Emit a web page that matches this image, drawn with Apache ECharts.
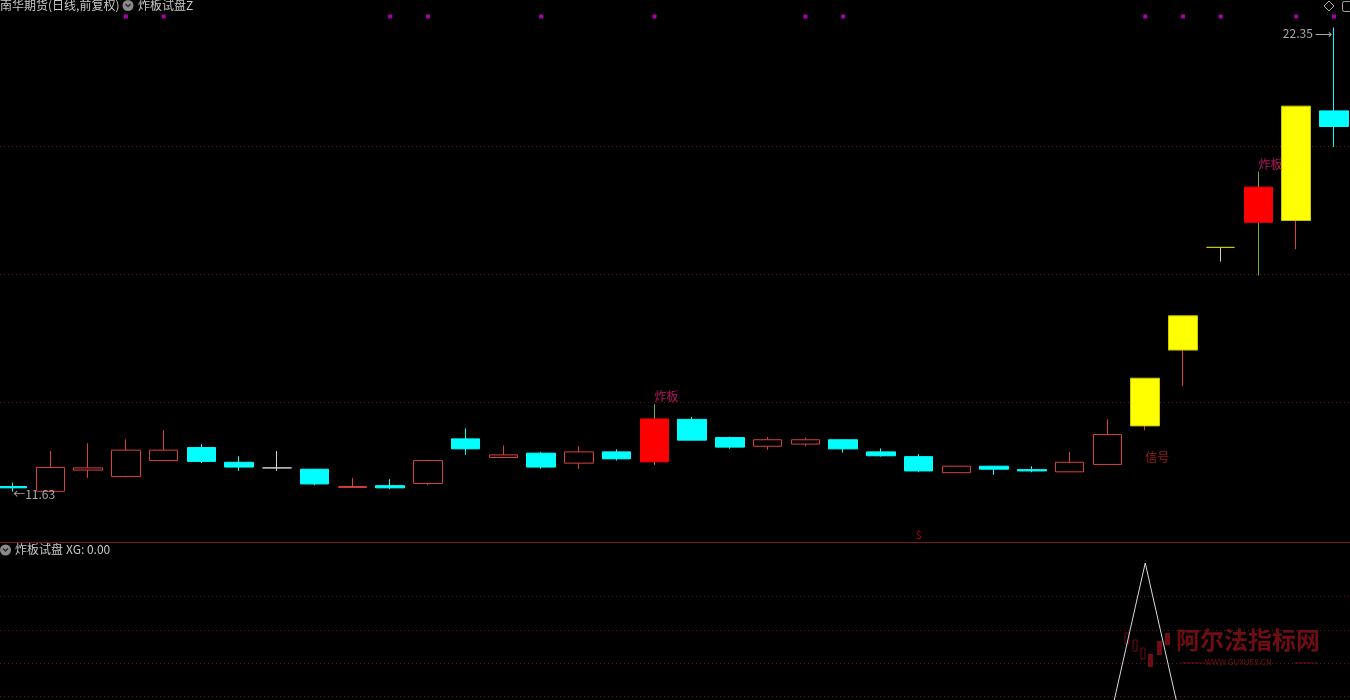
<!DOCTYPE html>
<html>
<head>
<meta charset="utf-8">
<title>炸板试盘</title>
<script src="https://cdn.jsdelivr.net/npm/echarts@6/dist/echarts.min.js"></script>
<style>
html, body { margin: 0; padding: 0; background: #000; }
#main { width: 1350px; height: 700px; }
</style>
</head>
<body>
<div id="main"></div>
<script>
// 日K线 开/收/低/高
const openP  = [11.75, 11.64, 12.13, 11.98, 12.35, 12.65, 12.31, 12.18, 12.15, 11.73, 11.77, 11.82,
                12.85, 12.42, 12.52, 12.29, 12.55, 12.32, 13.30, 12.88, 12.68, 12.73, 12.83, 12.55,
                12.44, 12.07, 12.22, 12.14, 12.09, 12.26, 13.15, 14.90, 17.27, 17.85, 17.89, 20.42];
const closeP = [11.72, 12.19, 12.18, 12.59, 12.59, 12.33, 12.20, 12.18, 11.81, 11.75, 11.72, 12.35,
                12.62, 12.48, 12.20, 12.55, 12.39, 13.31, 12.82, 12.66, 12.83, 12.83, 12.62, 12.46,
                12.11, 12.22, 12.15, 12.11, 12.31, 12.95, 14.25, 15.69, 17.27, 18.66, 20.53, 20.06];
const lowP   = [11.63, 11.64, 11.95, 11.96, 12.35, 12.29, 12.11, 12.11, 11.78, 11.73, 11.69, 11.78,
                12.48, 12.42, 12.16, 12.16, 12.35, 12.25, 12.82, 12.62, 12.60, 12.68, 12.53, 12.44,
                12.08, 12.07, 12.02, 12.08, 12.09, 12.26, 13.05, 14.07, 16.94, 16.62, 17.23, 19.59];
const highP  = [11.84, 12.57, 12.75, 12.84, 13.05, 12.73, 12.45, 12.57, 12.15, 11.95, 11.92, 12.37,
                13.09, 12.70, 12.55, 12.68, 12.61, 13.65, 13.36, 12.90, 12.89, 12.88, 12.83, 12.63,
                12.50, 12.22, 12.22, 12.22, 12.55, 13.30, 14.25, 15.69, 17.27, 19.02, 20.53, 22.35];

// 指标信号
const zhaBanIdx = [17, 33];            // 炸板
const yellowIdx = [30, 31, 32, 34];    // 黄色K线
const signalIdx = [30];                // 信号
const dollarIdx = [24];
const dollarLevel = 10.63;
const dotIdx = [3, 4, 10, 11, 14, 17, 21, 22, 30, 31, 32, 34, 35];
const dotLevel = 22.60;
const xgValues = [0, 0, 0, 0, 0, 0, 0, 0, 0, 0, 0, 0, 0, 0, 0, 0, 0, 0,
                  0, 0, 0, 0, 0, 0, 0, 0, 0, 0, 0, 0, 1, 0, 0, 0, 0, 0];

// 分隔虚线
const gridLevels = [13.69, 16.65, 19.61];
const subLevels = [0.2, 0.4, 0.6, 0.8];

const days = openP.map((_, i) => i);

const UP = '#d84040', DOWN = '#00ffff', FLAT = '#d0d0d0';
const FONT = '"Noto Sans CJK SC", sans-serif';

function kStyle(i) {
    const o = openP[i], c = closeP[i];
    let fill, border, wick;
    if (zhaBanIdx.includes(i)) {
        fill = '#ff0000'; border = '#ff0000'; wick = '#74b02c';
    } else if (yellowIdx.includes(i)) {
        fill = '#ffff00'; border = '#c8c800'; wick = UP;
    } else if (c > o) {
        fill = '#000'; border = UP; wick = UP;
    } else if (c < o) {
        fill = DOWN; border = DOWN; wick = DOWN;
    } else {
        fill = '#000'; border = FLAT; wick = FLAT;
    }
    if (o === c) wick = FLAT;
    return { fill, border, wick };
}

function colors(fill, border) {
    return { color: fill, color0: fill, borderColor: border, borderColor0: border, borderColorDoji: border, borderWidth: 1 };
}

// 影线一层, 实体一层盖在上面
const wickData = days.map(i => {
    const s = kStyle(i);
    return { value: [i, openP[i], closeP[i], lowP[i], highP[i]], itemStyle: colors(s.wick, s.wick) };
});
const bodyData = days.map(i => {
    const s = kStyle(i);
    const top = Math.max(openP[i], closeP[i]), bot = Math.min(openP[i], closeP[i]);
    return { value: [i, openP[i], closeP[i], bot, top], itemStyle: colors(s.fill, s.border) };
});

const maxHigh = Math.max(...highP), minLow = Math.min(...lowP);
const maxI = highP.indexOf(maxHigh), minI = lowP.indexOf(minLow);

function labelPoint(data, text, color, position, align, distance, offset, size) {
    return {
        type: 'scatter', xAxisIndex: 0, yAxisIndex: 0, symbolSize: 1, silent: true, z: 6,
        itemStyle: { color: 'transparent' },
        label: { show: true, formatter: text, color, position, align, distance, offset: offset || [0, 0],
                 fontSize: size || 12, fontFamily: FONT },
        data
    };
}

const dotted = (color) => ({ type: [1, 3], color, width: 1 });
const xRange = { min: -0.336, max: days.length - 1 + 0.424 };

let myechart = echarts.init(document.getElementById('main'));
myechart.setOption({
    backgroundColor: '#000',
    animation: false,
    grid: [
        { left: 0, right: 0, top: 0, height: 542 },
        { left: 0, right: 0, top: 563, bottom: 0 }
    ],
    xAxis: [
        { type: 'value', gridIndex: 0, min: xRange.min, max: xRange.max,
          axisLine: { show: true, onZero: false, lineStyle: { color: '#7a1a1a' } }, axisTick: { show: false },
          axisLabel: { show: false }, splitLine: { show: false } },
        { type: 'value', gridIndex: 1, min: xRange.min, max: xRange.max, show: false }
    ],
    yAxis: [
        { type: 'value', gridIndex: 0, min: 10.47, max: 22.98, show: false },
        // 窗口只露出 XG 副图的上半部分
        { type: 'value', gridIndex: 1, min: 0.1796, max: 1, show: false }
    ],
    series: [
        {
            name: 'wick', type: 'candlestick', barWidth: 1, clip: false, z: 2, data: wickData,
            markLine: {
                silent: true, symbol: 'none', label: { show: false }, z: 1,
                lineStyle: dotted('#6e1616'),
                data: gridLevels.map(v => ({ yAxis: v }))
            }
        },
        { name: 'K线', type: 'candlestick', barWidth: 29, clip: false, z: 5, data: bodyData },
        {
            name: 'dots', type: 'scatter', symbol: 'rect', symbolSize: 4, silent: true,
            itemStyle: { color: '#d400d4' },
            data: dotIdx.map(i => [i, dotLevel])
        },
        labelPoint(zhaBanIdx.map(i => [i, highP[i]]), '炸板', '#e01e78', 'top', 'left', 1),
        labelPoint(signalIdx.map(i => [i, lowP[i]]), '信号', '#c41c1c', 'bottom', 'left', 21),
        labelPoint(dollarIdx.map(i => [i, dollarLevel]), '$', '#e00000', 'inside', 'center', 0, [0, 0], 11),
        labelPoint([[maxI, maxHigh]], maxHigh.toFixed(2) + ' ⟶', '#d0d0d0', 'left', 'right', 1, [0, 6]),
        labelPoint([[minI, minLow]], '←' + minLow.toFixed(2), '#d0d0d0', 'right', 'left', 0, [0, 3]),
        {
            name: 'XG', type: 'line', xAxisIndex: 1, yAxisIndex: 1, z: 5,
            data: xgValues.map((v, i) => [i, v]),
            symbol: 'none', lineStyle: { color: '#d8d8d8', width: 1 },
            markLine: {
                silent: true, symbol: 'none', label: { show: false }, z: 1,
                lineStyle: dotted('#6e1616'),
                data: subLevels.map(v => ({ yAxis: v }))
            }
        }
    ],
    graphic: [
        // 标题
        { type: 'text', left: 0, top: -1, style: { text: '南华期货(日线,前复权)', fill: '#c8c8c8', font: '12px ' + FONT } },
        { type: 'circle', shape: { cx: 128, cy: 5.5, r: 5.5 }, style: { fill: '#8a8a8a' } },
        { type: 'polyline', shape: { points: [[125.5, 4], [128, 6.5], [130.5, 4]] }, style: { stroke: '#2a2a2a', lineWidth: 1.5, fill: null } },
        { type: 'text', left: 138, top: -1, style: { text: '炸板试盘Z', fill: '#c8c8c8', font: '12px ' + FONT } },
        { type: 'polygon', shape: { points: [[1329, 1], [1334, 6], [1329, 11], [1324, 6]] }, style: { fill: null, stroke: '#aaa', lineWidth: 1 } },
        { type: 'rect', shape: { x: 1342.5, y: 1.5, width: 9, height: 10, r: 2 }, style: { fill: null, stroke: '#aaa', lineWidth: 1 } },
        // 副图标题
        { type: 'circle', shape: { cx: 5.5, cy: 550, r: 5.5 }, style: { fill: '#8a8a8a' } },
        { type: 'polyline', shape: { points: [[3, 548.5], [5.5, 551], [8, 548.5]] }, style: { stroke: '#2a2a2a', lineWidth: 1.5, fill: null } },
        { type: 'text', left: 15, top: 543, style: { text: '炸板试盘', fill: '#c8c8c8', font: '12px ' + FONT } },
        { type: 'text', left: 66, top: 543, style: { text: 'XG: ' + xgValues[xgValues.length - 1].toFixed(2), fill: '#c8c8c8', font: '12px ' + FONT } },
        // 水印
        { type: 'rect', shape: { x: 1125, y: 633, width: 4, height: 11 }, style: { fill: null, stroke: '#6e0d12' } },
        { type: 'rect', shape: { x: 1133, y: 640, width: 4, height: 11 }, style: { fill: null, stroke: '#6e0d12' } },
        { type: 'rect', shape: { x: 1141, y: 648, width: 4, height: 11 }, style: { fill: null, stroke: '#6e0d12' } },
        { type: 'rect', shape: { x: 1148, y: 654, width: 5, height: 13 }, style: { fill: '#6e0d12' } },
        { type: 'rect', shape: { x: 1157, y: 641, width: 5, height: 14 }, style: { fill: '#6e0d12' } },
        { type: 'rect', shape: { x: 1165, y: 633, width: 5, height: 12 }, style: { fill: '#6e0d12' } },
        { type: 'text', left: 1176, top: 628, style: { text: '阿尔法指标网', fill: '#6e0d12', font: 'bold 24px ' + FONT } },
        { type: 'line', shape: { x1: 1181, y1: 663, x2: 1204, y2: 663 }, style: { stroke: '#6e0d12' } },
        { type: 'line', shape: { x1: 1294, y1: 663, x2: 1318, y2: 663 }, style: { stroke: '#6e0d12' } },
        { type: 'text', left: 1205, top: 658, style: { text: 'WWW.GUXUE8.CN', fill: '#7a1016', font: '8px ' + FONT } }
    ]
});
</script>
</body>
</html>
